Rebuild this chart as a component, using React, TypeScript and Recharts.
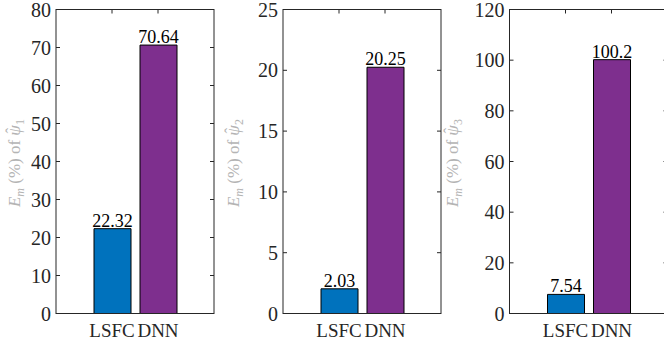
import React from "react";
import {
  BarChart,
  Bar,
  XAxis,
  YAxis,
  Cell,
  LabelList,
  Label,
} from "recharts";

// ─── Data ─────────────────────────────────────────────────────────────────────

const categories = ["LSFC", "DNN"];
const psi1Errors = [22.32, 70.64];
const psi2Errors = [2.03, 20.25];
const psi3Errors = [7.54, 100.2];
const psi1Ticks = [0, 10, 20, 30, 40, 50, 60, 70, 80];
const psi2Ticks = [0, 5, 10, 15, 20, 25];
const psi3Ticks = [0, 20, 40, 60, 80, 100, 120];
const barColors = ["#0072BD", "#7E2F8E"];

// ─── Layout ───────────────────────────────────────────────────────────────────

const FONT = "Liberation Serif, Times New Roman, serif";
const AXIS = "#262626";
const CHART_W = 230;
const CHART_H = 345;
const PLOT_W = 158;
const PLOT_TOP = 9.5;
const PLOT_BOTTOM = 313.5;
const Y_AXIS_W = 40;
const TICK_LEN = 4;

interface PanelProps {
  values: number[];
  ticks: number[];
  sub: string;
  offsetX: number;
  plotLeft: number;
  labelX: number;
}

function Panel({ values, ticks, sub, offsetX, plotLeft, labelX }: PanelProps) {
  const data = categories.map((name, i) => ({ name, value: values[i] }));
  const max = ticks[ticks.length - 1];
  const plotRight = plotLeft + PLOT_W;

  const renderYTick = (props: any) => {
    const { y, payload, index } = props;
    return (
      <g>
        {index === 0 && (
          <rect
            x={plotLeft}
            y={PLOT_TOP}
            width={PLOT_W}
            height={PLOT_BOTTOM - PLOT_TOP}
            fill="none"
            stroke={AXIS}
          />
        )}
        <text
          x={plotLeft - 5}
          y={y + 7}
          textAnchor="end"
          fontSize={20}
          style={{ fontFamily: FONT }}
          fill={AXIS}
        >
          {payload.value}
        </text>
        <line x1={plotLeft} x2={plotLeft + TICK_LEN} y1={y} y2={y} stroke={AXIS} />
        <line x1={plotRight - TICK_LEN} x2={plotRight} y1={y} y2={y} stroke={AXIS} />
      </g>
    );
  };

  const renderXTick = (props: any) => {
    const { x, payload } = props;
    return (
      <g>
        <text
          x={x}
          y={337}
          textAnchor="middle"
          fontSize={19}
          style={{ fontFamily: FONT }}
          fill={AXIS}
        >
          {payload.value}
        </text>
        <line x1={x} x2={x} y1={PLOT_TOP} y2={PLOT_TOP + TICK_LEN} stroke={AXIS} />
      </g>
    );
  };

  const renderYLabel = () => {
    const cy = 163;
    return (
      <text
        x={labelX}
        y={cy}
        transform={`rotate(-90 ${labelX} ${cy})`}
        textAnchor="middle"
        fontSize={17}
        style={{ fontFamily: FONT }}
        fill="#b4b4b4"
      >
        <tspan fontStyle="italic">E</tspan>
        <tspan fontStyle="italic" fontSize={12} dy={4}>
          m
        </tspan>
        <tspan dy={-4}> (%) of </tspan>
        <tspan fontStyle="italic">{"\u03C8"}</tspan>
        <tspan dx={-8.5} dy={-3}>
          {"\u02C6"}
        </tspan>
        <tspan fontSize={12} dx={3} dy={7}>
          {sub}
        </tspan>
      </text>
    );
  };

  return (
    <div style={{ position: "absolute", left: offsetX, top: 0 }}>
      <BarChart
        width={CHART_W}
        height={CHART_H}
        data={data}
        margin={{
          top: PLOT_TOP,
          right: CHART_W - plotLeft - PLOT_W,
          bottom: 1.5,
          left: plotLeft - Y_AXIS_W,
        }}
      >
        <XAxis
          dataKey="name"
          height={30}
          padding={{ left: 33, right: 33 }}
          axisLine={false}
          tickLine={false}
          tick={renderXTick}
          interval={0}
        />
        <YAxis
          width={Y_AXIS_W}
          domain={[0, max]}
          ticks={ticks}
          interval={0}
          axisLine={false}
          tickLine={false}
          tick={renderYTick}
        >
          <Label content={renderYLabel} />
        </YAxis>
        <Bar
          dataKey="value"
          barSize={37}
          stroke="#000"
          strokeWidth={1}
          isAnimationActive={false}
        >
          {data.map((_, i) => (
            <Cell key={`cell-${i}`} fill={barColors[i]} />
          ))}
          <LabelList
            dataKey="value"
            position="top"
            offset={2}
            fill="#000"
            fontSize={18}
            style={{ fontFamily: FONT }}
          />
        </Bar>
      </BarChart>
    </div>
  );
}

export default function App() {
  return (
    <div
      style={{
        position: "absolute",
        left: 0,
        top: 0,
        width: 664,
        height: 345,
        overflow: "hidden",
        background: "#fff",
      }}
    >
      <Panel values={psi1Errors} ticks={psi1Ticks} sub="1" offsetX={0} plotLeft={56} labelX={20} />
      <Panel values={psi2Errors} ticks={psi2Ticks} sub="2" offsetX={220} plotLeft={63} labelX={19} />
      <Panel values={psi3Errors} ticks={psi3Ticks} sub="3" offsetX={440} plotLeft={69.5} labelX={18} />
    </div>
  );
}
